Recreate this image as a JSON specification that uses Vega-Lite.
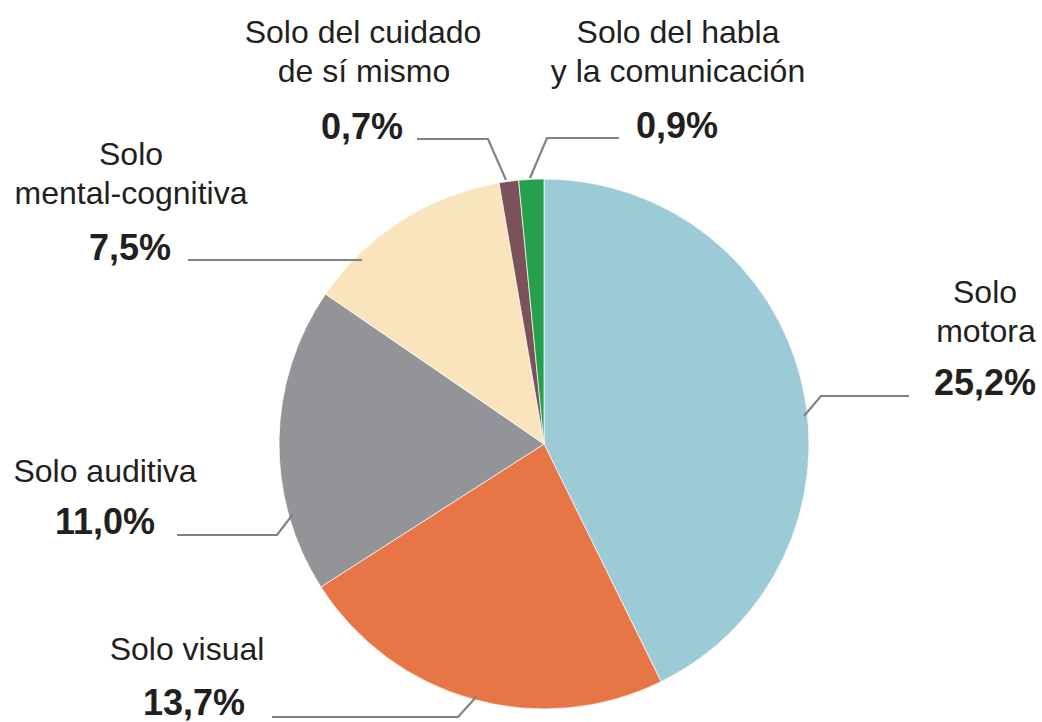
{
  "$schema": "https://vega.github.io/schema/vega-lite/v6.json",
  "width": 1042,
  "height": 722,
  "autosize": {"type": "fit", "contains": "padding"},
  "padding": 0,
  "background": "white",
  "config": {"view": {"stroke": null}, "font": "Liberation Sans"},
  "datasets": {
    "slices": [
      {"cat": "Solo motora", "ord": 1, "value": 25.2, "pct": "25,2%", "px": 985, "py": 395},
      {"cat": "Solo visual", "ord": 2, "value": 13.7, "pct": "13,7%", "px": 194, "py": 715},
      {"cat": "Solo auditiva", "ord": 3, "value": 11.0, "pct": "11,0%", "px": 105, "py": 534},
      {"cat": "Solo mental-cognitiva", "ord": 4, "value": 7.5, "pct": "7,5%", "px": 130, "py": 260},
      {"cat": "Solo del cuidado de sí mismo", "ord": 5, "value": 0.7, "pct": "0,7%", "px": 362, "py": 139},
      {"cat": "Solo del habla y la comunicación", "ord": 6, "value": 0.9, "pct": "0,9%", "px": 677, "py": 138}
    ],
    "names": [
      {"cat": "Solo motora", "line": "Solo", "x": 985, "y": 303},
      {"cat": "Solo motora", "line": "motora", "x": 986, "y": 342},
      {"cat": "Solo visual", "line": "Solo visual", "x": 187, "y": 660},
      {"cat": "Solo auditiva", "line": "Solo auditiva", "x": 105, "y": 482},
      {"cat": "Solo mental-cognitiva", "line": "Solo", "x": 131, "y": 165},
      {"cat": "Solo mental-cognitiva", "line": "mental-cognitiva", "x": 131, "y": 204},
      {"cat": "Solo del cuidado de sí mismo", "line": "Solo del cuidado", "x": 363, "y": 43},
      {"cat": "Solo del cuidado de sí mismo", "line": "de sí mismo", "x": 364, "y": 82},
      {"cat": "Solo del habla y la comunicación", "line": "Solo del habla", "x": 678, "y": 43},
      {"cat": "Solo del habla y la comunicación", "line": "y la comunicación", "x": 678, "y": 82}
    ],
    "leaders": [
      {"cat": "Solo motora", "seq": 1, "x": 909, "y": 396},
      {"cat": "Solo motora", "seq": 2, "x": 821, "y": 396},
      {"cat": "Solo motora", "seq": 3, "x": 804, "y": 416},
      {"cat": "Solo visual", "seq": 1, "x": 272, "y": 717},
      {"cat": "Solo visual", "seq": 2, "x": 458, "y": 717},
      {"cat": "Solo visual", "seq": 3, "x": 477, "y": 696},
      {"cat": "Solo auditiva", "seq": 1, "x": 177, "y": 535},
      {"cat": "Solo auditiva", "seq": 2, "x": 277, "y": 535},
      {"cat": "Solo auditiva", "seq": 3, "x": 293, "y": 514},
      {"cat": "Solo mental-cognitiva", "seq": 1, "x": 188, "y": 260},
      {"cat": "Solo mental-cognitiva", "seq": 2, "x": 362, "y": 260},
      {"cat": "Solo del cuidado de sí mismo", "seq": 1, "x": 417, "y": 139},
      {"cat": "Solo del cuidado de sí mismo", "seq": 2, "x": 488, "y": 139},
      {"cat": "Solo del cuidado de sí mismo", "seq": 3, "x": 506, "y": 180},
      {"cat": "Solo del habla y la comunicación", "seq": 1, "x": 619, "y": 138},
      {"cat": "Solo del habla y la comunicación", "seq": 2, "x": 547, "y": 138},
      {"cat": "Solo del habla y la comunicación", "seq": 3, "x": 530, "y": 178}
    ]
  },
  "resolve": {"scale": {"x": "shared", "y": "shared"}},
  "layer": [
    {
      "data": {"name": "slices"},
      "mark": {"type": "arc", "radius": 265, "stroke": "#ffffff", "strokeWidth": 0.7},
      "encoding": {
        "theta": {"field": "value", "type": "quantitative", "stack": true},
        "order": {"field": "ord", "type": "quantitative"},
        "color": {
          "field": "cat", "type": "nominal", "legend": null,
          "scale": {
            "domain": ["Solo motora", "Solo visual", "Solo auditiva", "Solo mental-cognitiva", "Solo del cuidado de sí mismo", "Solo del habla y la comunicación"],
            "range": ["#9DCAD7", "#E87545", "#939497", "#F9E4BD", "#7B515A", "#27A04B"]
          }
        },
        "x": {"datum": 544, "type": "quantitative", "scale": {"domain": [0, 1042], "nice": false, "zero": false}, "axis": null},
        "y": {"datum": 444, "type": "quantitative", "scale": {"domain": [0, 722], "nice": false, "zero": false, "reverse": true}, "axis": null}
      }
    },
    {
      "data": {"name": "leaders"},
      "mark": {"type": "line", "color": "#808285", "strokeWidth": 2.2, "strokeJoin": "miter"},
      "encoding": {
        "x": {"field": "x", "type": "quantitative"},
        "y": {"field": "y", "type": "quantitative"},
        "detail": {"field": "cat", "type": "nominal"},
        "order": {"field": "seq", "type": "quantitative"}
      }
    },
    {
      "data": {"name": "names"},
      "mark": {"type": "text", "align": "center", "baseline": "alphabetic", "fontSize": 32, "color": "#231F20", "font": "Liberation Sans"},
      "encoding": {
        "x": {"field": "x", "type": "quantitative"},
        "y": {"field": "y", "type": "quantitative"},
        "text": {"field": "line", "type": "nominal"}
      }
    },
    {
      "data": {"name": "slices"},
      "mark": {"type": "text", "align": "center", "baseline": "alphabetic", "fontSize": 36, "fontWeight": "bold", "color": "#231F20", "font": "Liberation Sans"},
      "encoding": {
        "x": {"field": "px", "type": "quantitative"},
        "y": {"field": "py", "type": "quantitative"},
        "text": {"field": "pct", "type": "nominal"}
      }
    }
  ]
}
